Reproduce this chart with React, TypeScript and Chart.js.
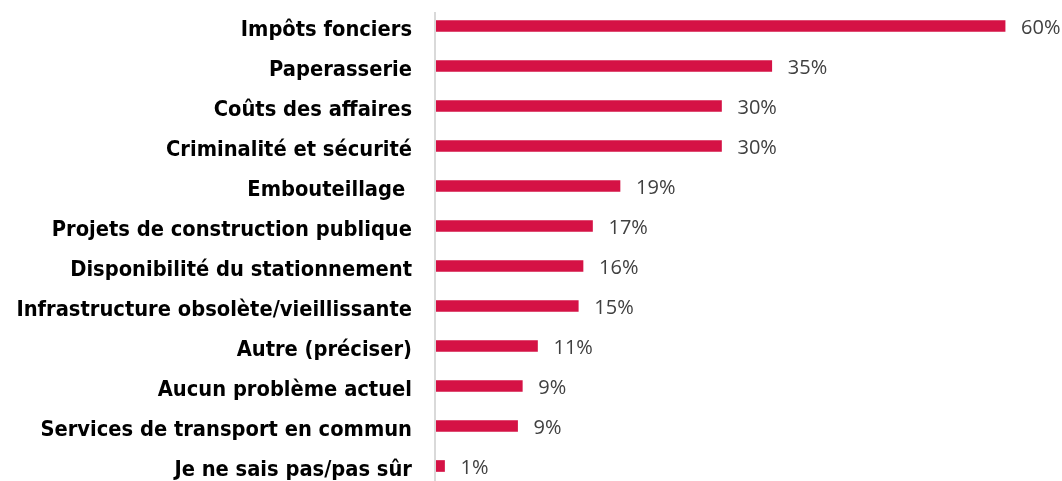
import React, { useEffect, useRef } from "react";
import { Chart, registerables } from "chart.js";

Chart.register(...registerables);

const categories = [
  "Impôts fonciers",
  "Paperasserie",
  "Coûts des affaires",
  "Criminalité et sécurité",
  "Embouteillage ",
  "Projets de construction publique",
  "Disponibilité du stationnement",
  "Infrastructure obsolète/vieillissante",
  "Autre (préciser)",
  "Aucun problème actuel",
  "Services de transport en commun",
  "Je ne sais pas/pas sûr",
];

const values = [60, 35.4, 30.1, 30.1, 19.4, 16.5, 15.5, 15.0, 10.7, 9.1, 8.6, 0.9];

const valueLabels = ["60%", "35%", "30%", "30%", "19%", "17%", "16%", "15%", "11%", "9%", "9%", "1%"];

const BAR_COLOR = "#D51245";

const overlayPlugin = {
  id: "overlay",
  afterDatasetsDraw(chart: any) {
    const ctx = chart.ctx;
    const meta = chart.getDatasetMeta(0);
    ctx.save();
    ctx.font = "20px 'Open Sans'";
    ctx.fillStyle = "#404040";
    ctx.textBaseline = "middle";
    ctx.textAlign = "left";
    meta.data.forEach((bar: any, i: number) => {
      ctx.fillText(valueLabels[i], bar.x + 16, bar.y + 2);
    });
    const x = chart.chartArea.left - 1;
    ctx.strokeStyle = "#d9d9d9";
    ctx.lineWidth = 2;
    ctx.beginPath();
    ctx.moveTo(x, 12);
    ctx.lineTo(x, chart.chartArea.bottom);
    ctx.stroke();
    ctx.restore();
  },
};

export default function App() {
  const canvasRef = useRef<HTMLCanvasElement | null>(null);

  useEffect(() => {
    if (!canvasRef.current) return;
    const chart = new Chart(canvasRef.current, {
      type: "bar",
      data: {
        labels: categories,
        datasets: [
          {
            data: values,
            backgroundColor: BAR_COLOR,
            borderWidth: 0,
            barThickness: 11,
          },
        ],
      },
      options: {
        indexAxis: "y",
        animation: false,
        responsive: false,
        maintainAspectRatio: false,
        devicePixelRatio: 1,
        layout: { padding: { top: 6, left: 0, right: 0, bottom: 0 } },
        plugins: {
          legend: { display: false },
          tooltip: { enabled: false },
        },
        scales: {
          x: {
            display: false,
            min: 0,
            max: 66,
          },
          y: {
            afterFit(scale: any) {
              scale.width = 436;
              scale.paddingTop = 0;
              scale.paddingBottom = 0;
            },
            grid: { display: false, drawTicks: false },
            border: { display: false },
            ticks: {
              padding: 24,
              labelOffset: 4,
              color: "#000000",
              font: { family: "'DejaVu Sans Condensed', 'Liberation Sans'", size: 21.7, weight: "bold" },
            },
          },
        },
      },
      plugins: [overlayPlugin],
    });
    return () => chart.destroy();
  }, []);

  return (
    <div style={{ position: "absolute", left: 0, top: 0, width: 1062, height: 486, overflow: "visible" }}>
      <canvas ref={canvasRef} width={1062} height={486} style={{ display: "block", width: 1062, height: 486 }} />
    </div>
  );
}
